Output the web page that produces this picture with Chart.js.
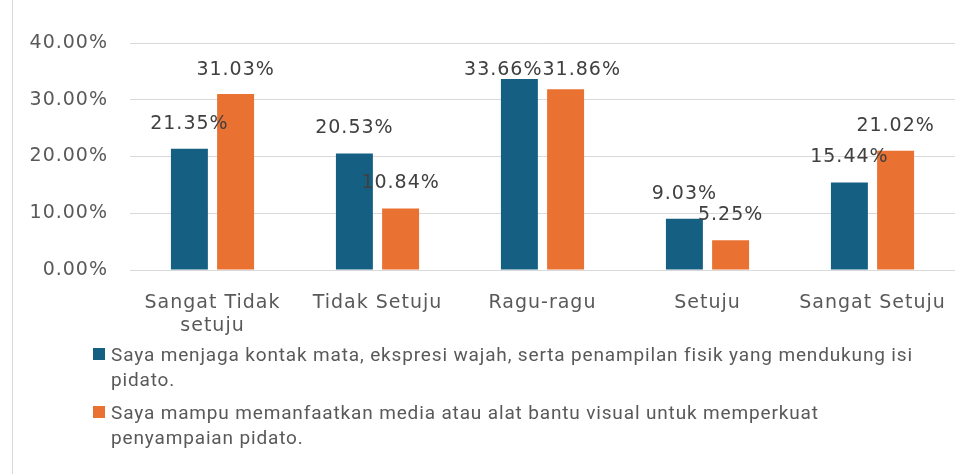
<!DOCTYPE html>
<html>
<head>
<meta charset="utf-8">
<script src="https://cdn.jsdelivr.net/npm/chart.js@4/dist/chart.umd.min.js"></script>
<style>
  html, body { margin: 0; padding: 0; background: #fff; }
  #wrap { position: relative; width: 965px; height: 474px; overflow: hidden; }
  #frame { position: absolute; left: 12px; top: -2px; width: 1000px; height: 500px; border: 1px solid #d9d9d9; }
  #chartBox { position: absolute; left: 0; top: 0; width: 965px; height: 345px; }
  #legend { position: absolute; left: 93px; top: 342px; font-family: "Roboto", sans-serif; font-size: 19px; letter-spacing: 0.85px; color: #595959; }
  .item { position: relative; padding-left: 18px; line-height: 25px; margin-bottom: 8px; }
  .item .box { position: absolute; left: 0; top: 6px; width: 12px; height: 12px; }
</style>
</head>
<body>
<div id="wrap">
  <div id="frame"></div>
  <div id="chartBox"><canvas id="chart"></canvas></div>
  <div id="legend"></div>
</div>
<script>
const categories = [['Sangat Tidak', 'setuju'], 'Tidak Setuju', 'Ragu-ragu', 'Setuju', 'Sangat Setuju'];
const seriesLines = [
  ['Saya menjaga kontak mata, ekspresi wajah, serta penampilan fisik yang mendukung isi', 'pidato.'],
  ['Saya mampu memanfaatkan media atau alat bantu visual untuk memperkuat', 'penyampaian pidato.']
];
const kontakMata = [21.35, 20.53, 33.66, 9.03, 15.44];
const mediaVisual = [31.03, 10.84, 31.86, 5.25, 21.02];
const yTicks = [0, 10, 20, 30, 40];
const colors = ['#156082', '#E97132'];

const tickFont = { family: 'DejaVu Sans', size: 19 };

// widen the text a bit, like the original's spacing
const spacing = {
  id: 'spacing',
  beforeDraw(chart) { chart.ctx.letterSpacing = '1px'; }
};

const valueLabels = {
  id: 'valueLabels',
  afterDatasetsDraw(chart) {
    const ctx = chart.ctx;
    const area = chart.chartArea;
    ctx.save();
    ctx.letterSpacing = '1px';
    ctx.font = '19px "DejaVu Sans"';
    ctx.fillStyle = '#404040';
    ctx.textAlign = 'center';
    ctx.textBaseline = 'middle';
    const metas = chart.data.datasets.map((ds, i) => chart.getDatasetMeta(i).data);
    categories.forEach((c, j) => {
      const labs = chart.data.datasets.map((ds, i) => {
        const bar = metas[i][j];
        const text = ds.data[j].toFixed(2) + '%';
        return { text, x: bar.x, y: Math.max(bar.y - 25, area.top + 27), w: ctx.measureText(text).width };
      });
      const [a, b] = labs;
      const need = (a.w + b.w) / 2;
      if (Math.abs(a.y - b.y) < 20 && b.x - a.x < need) {
        const d = (need - (b.x - a.x)) / 2;
        a.x -= d; b.x += d;
      }
      labs.forEach(l => ctx.fillText(l.text, l.x, l.y));
    });
    ctx.restore();
  }
};

const chart = new Chart(document.getElementById('chart'), {
  type: 'bar',
  data: {
    labels: categories,
    datasets: [
      { label: seriesLines[0].join(' '), data: kontakMata, backgroundColor: colors[0] },
      { label: seriesLines[1].join(' '), data: mediaVisual, backgroundColor: colors[1] }
    ]
  },
  options: {
    responsive: true,
    maintainAspectRatio: false,
    animation: false,
    layout: { padding: { top: 43, right: 10, left: 0, bottom: 0 } },
    datasets: { bar: { categoryPercentage: 0.56, barPercentage: 0.8 } },
    plugins: { legend: { display: false }, tooltip: { enabled: false } },
    scales: {
      x: {
        grid: { display: false },
        border: { display: false },
        ticks: { color: '#595959', font: tickFont, padding: 14, maxRotation: 0 },
        afterFit: s => { s.height = 75; }
      },
      y: {
        min: 0, max: 40,
        afterBuildTicks: s => { s.ticks = yTicks.map(v => ({ value: v })); },
        grid: { color: '#d9d9d9', lineWidth: 1, drawTicks: false },
        border: { display: false },
        ticks: { color: '#595959', font: tickFont, padding: 22, callback: v => v.toFixed(2) + '%' },
        afterFit: s => { s.width = 130; }
      }
    }
  },
  plugins: [spacing, valueLabels]
});

document.getElementById('legend').innerHTML = seriesLines.map((lines, i) =>
  `<div class="item"><span class="box" style="background:${colors[i]}"></span>${lines.join('<br>')}</div>`
).join('');
</script>
</body>
</html>
